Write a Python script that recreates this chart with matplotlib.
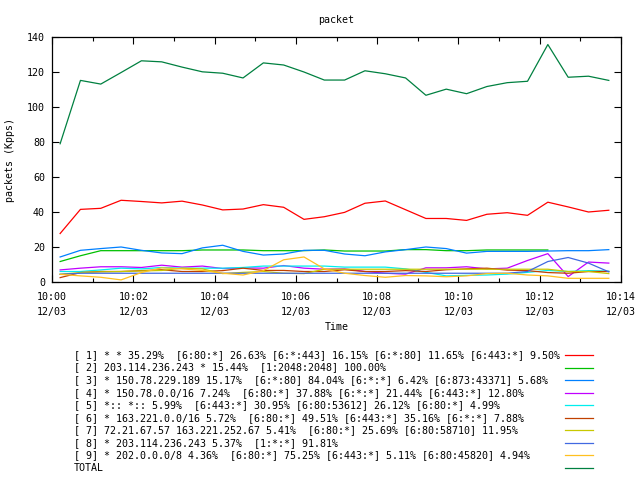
import numpy as np
import pandas as pd
import matplotlib
matplotlib.use("Agg")
import matplotlib.pyplot as plt
import matplotlib.dates as mdates
from matplotlib.lines import Line2D

plt.rcParams['font.family'] = ['DejaVu Sans Mono']

# sample times: every 30 s starting 10:00:12
times = pd.date_range('2008-12-03 10:00:12', periods=28, freq='30s')

nan = np.nan
s1 = [27.7, 41.5, 42.1, 46.7, 46.0, 45.2, 46.2, 44.0, 41.2, 41.7, 44.2, 42.7, 35.8, 37.3,
      39.8, 45.0, 46.3, 41.3, 36.3, 36.3, 35.2, 38.7, 39.6, 38.1, 45.6, 42.9, 40.0, 41.0]
s2 = [11.7, 15.0, 17.9, 17.9, 17.9, 17.9, 17.9, 18.3, 18.3, 18.3, 17.9, 17.9, 17.9, 18.3,
      17.7, 17.7, 17.7, 18.5, 18.5, 17.9, 17.9, 18.3, 18.3, 18.3, 18.3, nan, nan, nan]
s3 = [14.3, 18.1, 19.1, 20.0, 18.1, 16.6, 16.2, 19.5, 21.0, 17.5, 15.4, 16.0, 18.1, 18.1,
      16.0, 15.0, 17.2, 18.5, 20.0, 19.1, 16.5, 17.5, 17.5, 17.5, 17.7, 17.9, 17.9, 18.5]
s4 = [6.9, 7.9, 8.7, 8.7, 8.3, 9.6, 8.5, 9.1, 7.7, 8.1, 7.9, 9.4, 7.9, 7.3,
      7.5, 6.0, 5.0, 4.5, 8.1, 8.1, 8.7, 7.5, 7.9, 12.3, 16.2, 3.1, 11.4, 10.8]
s5 = [6.0, 6.0, 6.9, 7.9, 7.5, 8.3, 7.9, 7.9, 7.9, 8.3, 9.1, 9.1, 9.1, 9.1,
      8.5, 8.5, 8.5, 7.5, 5.5, 3.5, 3.8, 4.0, 4.5, 5.5, 6.6, 6.0, 6.5, 6.2]
s6 = [2.5, 5.4, 6.0, 6.0, 6.5, 7.0, 6.0, 6.0, 6.5, 7.9, 6.6, 6.6, 6.0, 6.0,
      7.0, 6.0, 6.0, 6.5, 6.0, 7.0, 7.5, 7.9, 6.8, 6.5, 5.4, 5.0, 6.0, 6.0]
s7 = [4.4, 5.4, 5.8, 6.0, 6.3, 6.6, 7.9, 7.5, 4.8, 5.5, 6.0, 5.0, 4.8, 7.3,
      7.3, 7.3, 7.3, 7.3, 7.3, 7.3, 7.3, 7.3, 7.3, 7.3, 7.3, 6.0, 6.0, 4.8]
s8 = [4.4, 5.0, 5.0, 5.0, 5.0, 5.0, 5.0, 5.0, 5.0, 5.0, 5.0, 5.0, 5.0, 5.0,
      5.0, 5.0, 5.0, 5.0, 5.0, 5.0, 5.0, 5.0, 5.0, 6.0, 11.7, 14.0, 10.8, 5.8]
s9 = [4.4, 3.5, 2.7, 1.2, 5.4, 8.1, 7.5, 6.6, 5.0, 4.0, 6.5, 12.7, 14.3, 7.5,
      5.0, 3.7, 2.7, 3.7, 3.5, 3.0, 3.5, 4.8, 5.0, 4.0, 3.5, 2.1, 2.1, 2.1]
total = [79.0, 115.2, 113.1, 119.7, 126.4, 125.8, 122.8, 120.1, 119.3, 116.6, 125.2, 124.0, 120.0, 115.4,
         115.4, 120.7, 119.0, 116.6, 106.7, 110.2, 107.6, 111.7, 113.9, 114.7, 135.7, 117.0, 117.6, 115.2]

labels = [
    "[ 1] * * 35.29%  [6:80:*] 26.63% [6:*:443] 16.15% [6:*:80] 11.65% [6:443:*] 9.50%",
    "[ 2] 203.114.236.243 * 15.44%  [1:2048:2048] 100.00%",
    "[ 3] * 150.78.229.189 15.17%  [6:*:80] 84.04% [6:*:*] 6.42% [6:873:43371] 5.68%",
    "[ 4] * 150.78.0.0/16 7.24%  [6:80:*] 37.88% [6:*:*] 21.44% [6:443:*] 12.80%",
    "[ 5] *:: *:: 5.99%  [6:443:*] 30.95% [6:80:53612] 26.12% [6:80:*] 4.99%",
    "[ 6] * 163.221.0.0/16 5.72%  [6:80:*] 49.51% [6:443:*] 35.16% [6:*:*] 7.88%",
    "[ 7] 72.21.67.57 163.221.252.67 5.41%  [6:80:*] 25.69% [6:80:58710] 11.95%",
    "[ 8] * 203.114.236.243 5.37%  [1:*:*] 91.81%",
    "[ 9] * 202.0.0.0/8 4.36%  [6:80:*] 75.25% [6:443:*] 5.11% [6:80:45820] 4.94%",
    "TOTAL",
]
series = [s1, s2, s3, s4, s5, s6, s7, s8, s9, total]
colors = ['#ff0000', '#00c000', '#0080ff', '#c000ff', '#00eeee',
          '#c04000', '#c8c800', '#4169e1', '#ffc020', '#008040']

fig = plt.figure(figsize=(6.4, 4.8), dpi=100)
W, H = 640.0, 480.0
ax = fig.add_axes([52 / W, 1 - 282 / H, (621 - 52) / W, (282 - 37) / H])

for ys, c in zip(series, colors):
    ax.plot(times, ys, color=c, lw=0.9)

ax.set_xlim(pd.Timestamp('2008-12-03 10:00'), pd.Timestamp('2008-12-03 10:14'))
ax.set_ylim(0, 140)
ax.set_yticks(range(0, 141, 20))
ax.xaxis.set_major_locator(mdates.MinuteLocator(byminute=range(0, 60, 2)))
ax.xaxis.set_minor_locator(mdates.MinuteLocator(byminute=range(1, 60, 2)))
ax.xaxis.set_major_formatter(mdates.DateFormatter('%H:%M\n%m/%d'))
ax.tick_params(which='both', direction='in', top=True, right=True, labelsize=7.2, width=0.8)
ax.tick_params(which='major', length=5)
ax.tick_params(axis='x', which='major', pad=7)
ax.tick_params(axis='y', which='major', pad=5)
ax.tick_params(which='minor', length=3)
for t in ax.xaxis.get_major_ticks():
    t.label1.set_linespacing(1.6)
for sp in ax.spines.values():
    sp.set_linewidth(0.9)

ax.set_title('packet', fontsize=7.2, pad=10)
ax.set_xlabel('Time', fontsize=7.2, labelpad=4)
ax.set_ylabel('packets (Kpps)', fontsize=7.2, labelpad=9)

# key below the plot
for i, (lab, c) in enumerate(zip(labels, colors)):
    y = 1 - (355 + 12.56 * i) / H
    fig.text(74 / W, y, lab, fontsize=7.2, ha='left', va='center')
    fig.add_artist(Line2D([565 / W, 593 / W], [y, y], color=c, lw=0.9))

fig.savefig('out.png', dpi=100)
